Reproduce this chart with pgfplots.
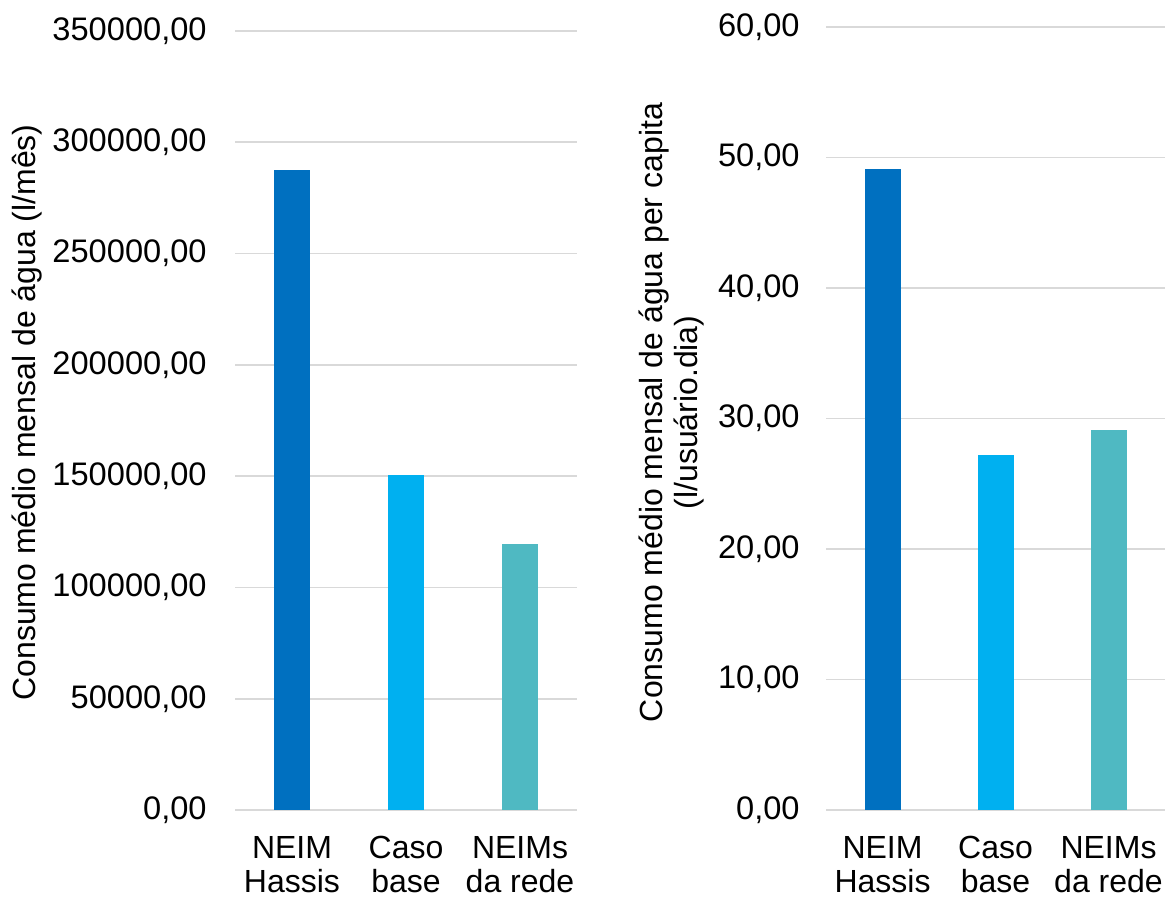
\documentclass[border=0pt]{standalone}
\usepackage{fontspec}
\setmainfont{Liberation Sans}
\usepackage{pgfplots}
\pgfplotsset{compat=1.18}
\definecolor{c1}{HTML}{0070C0}
\definecolor{c2}{HTML}{00B0F0}
\definecolor{c3}{HTML}{4FB9C2}
\definecolor{gridc}{HTML}{D9D9D9}
\pgfplotsset{
  mybars/.style={
    scale only axis,
    xmin=-0.5, xmax=2.5, ymin=0,
    axis line style={draw=none},
    major tick length=0pt,
    ymajorgrids,
    scaled y ticks=false,
    grid style={draw=gridc, line width=0.8pt},
    xtick={0,1,2},
    xticklabels={{NEIM\\Hassis},{Caso\\base},{NEIMs\\da rede}},
    xticklabel style={align=center, inner sep=0pt, anchor=north, yshift=-13pt, font=\fontsize{16}{17}\selectfont},
    yticklabel style={anchor=east, inner sep=0pt, font=\fontsize{16.3}{18}\selectfont},
    /pgf/number format/.cd, fixed, fixed zerofill, precision=2, use comma, 1000 sep={}, assume math mode=true,
    /pgfplots/.cd,
    ylabel style={font=\fontsize{16}{17.5}\selectfont, align=center, anchor=center},
  }
}
\begin{document}
\begin{tikzpicture}
\useasboundingbox (0,0) rectangle (582.5pt,450pt);
\begin{axis}[mybars,
  at={(117.5pt,45pt)}, anchor=south west,
  width=171pt, height=389.5pt,
  ymax=350000, ytick={0,50000,...,350000},
  yticklabel style={xshift=-14pt},
  ylabel={Consumo médio mensal de água (l/mês)},
  ylabel style={at={(rel axis cs:0,0.5)}, yshift=104pt, xshift=4pt},
]
\addplot[ybar, bar width=18pt, bar shift=0pt, fill=c1, draw=none] coordinates {(0,287500)};
\addplot[ybar, bar width=18pt, bar shift=0pt, fill=c2, draw=none] coordinates {(1,150700)};
\addplot[ybar, bar width=18pt, bar shift=0pt, fill=c3, draw=none] coordinates {(2,119700)};
\end{axis}
\begin{axis}[mybars,
  at={(413pt,45pt)}, anchor=south west,
  width=169.5pt, height=391.5pt,
  ymax=60, ytick={0,10,...,60},
  yticklabel style={xshift=-13pt},
  ylabel={Consumo médio mensal de água per capita\\(l/usuário.dia)},
  ylabel style={at={(rel axis cs:0,0.5)}, yshift=77pt, xshift=3pt},
]
\addplot[ybar, bar width=18pt, bar shift=0pt, fill=c1, draw=none] coordinates {(0,49.1)};
\addplot[ybar, bar width=18pt, bar shift=0pt, fill=c2, draw=none] coordinates {(1,27.2)};
\addplot[ybar, bar width=18pt, bar shift=0pt, fill=c3, draw=none] coordinates {(2,29.15)};
\end{axis}
\end{tikzpicture}
\end{document}
